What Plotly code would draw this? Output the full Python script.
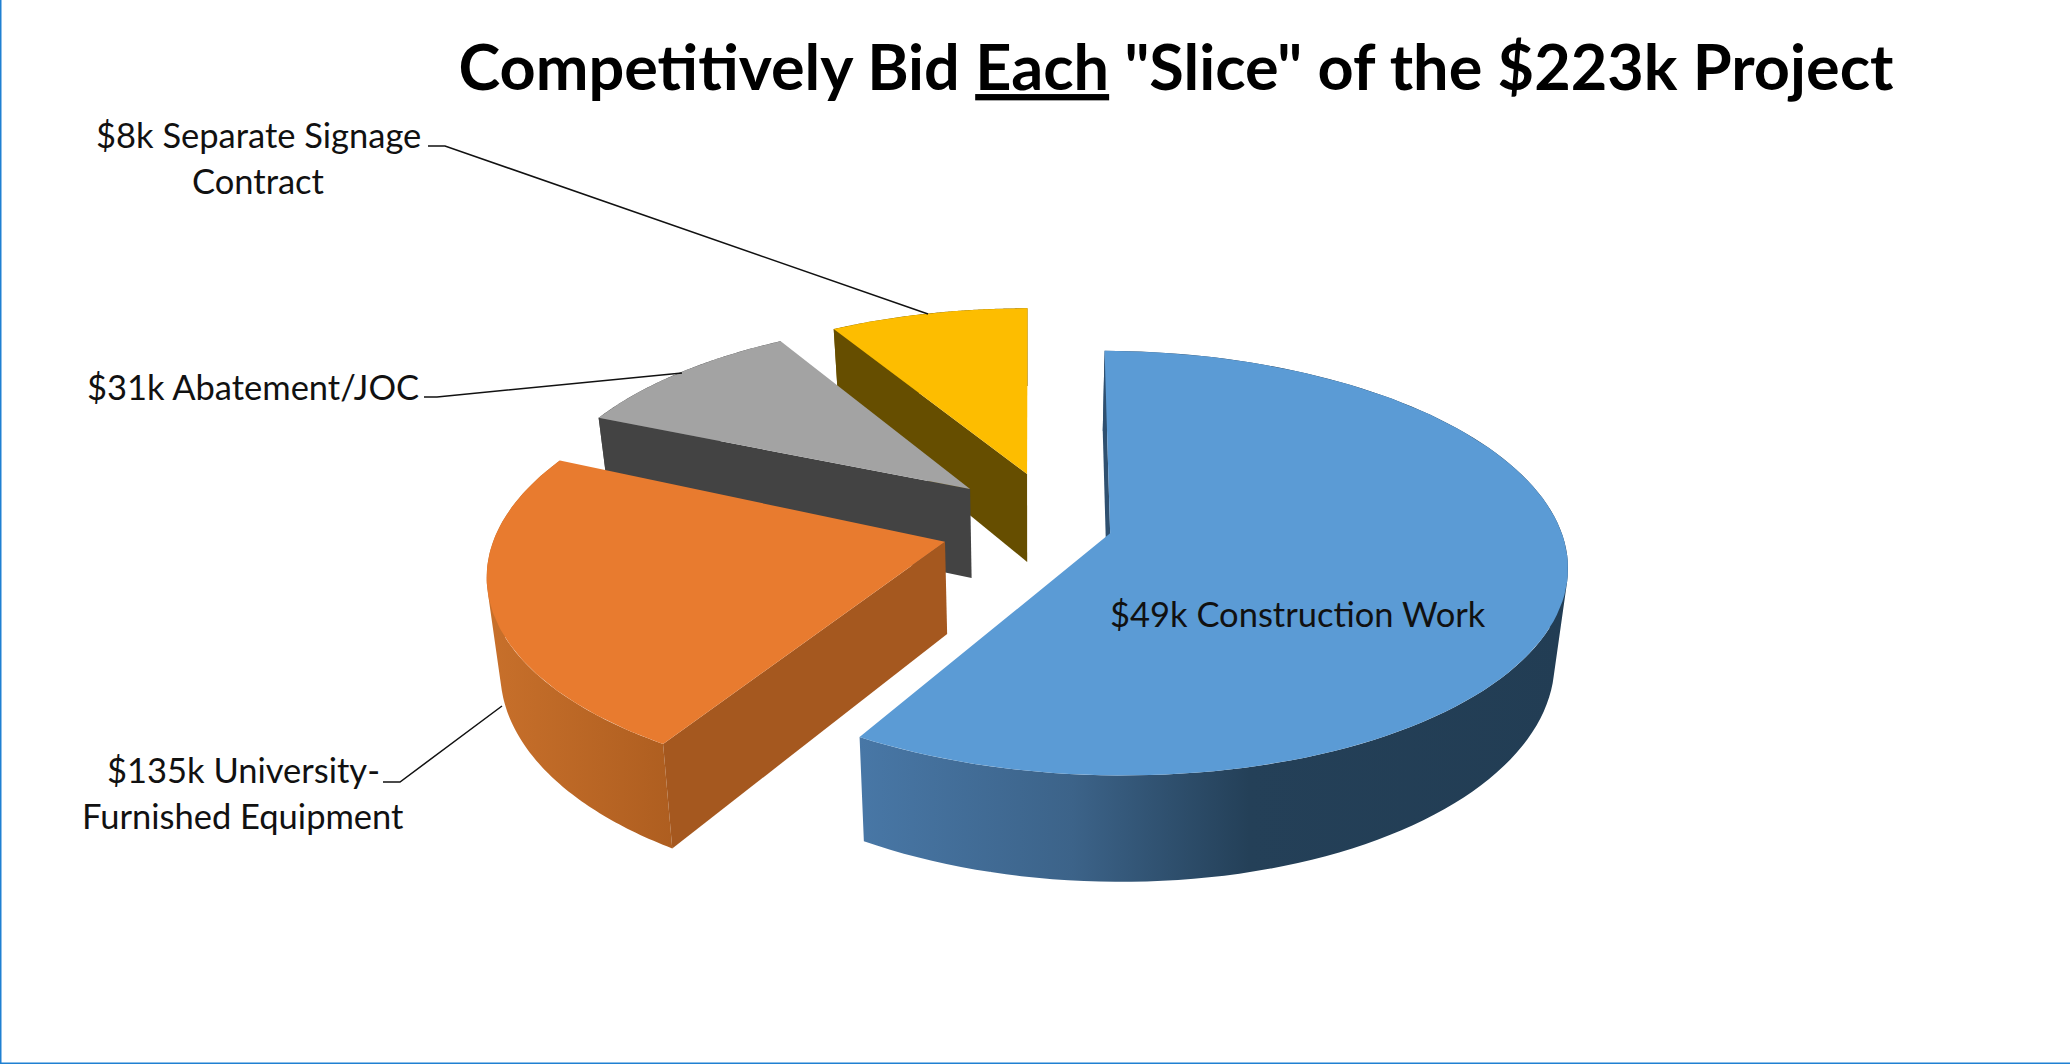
import numpy as np
import plotly.graph_objects as go

# slice shares (percent of the circle), clockwise from 12 o'clock
slice_names = ["Blue slice", "Orange slice", "Gray slice", "Yellow slice"]
slice_shares = [58.5, 22.9, 10.1, 8.5]

top_colors = ["#5b9bd5", "#e87b2f", "#a3a3a3", "#fdbd00"]
cut_colors = ["#2f5070", "#a5581f", "#434343", "#664e00"]
wall_scales = [
    [[0, "#4877a6"], [0.3, "#3c6389"], [0.55, "#244058"], [1, "#223d54"]],
    [[0, "#c8702b"], [1, "#ae5e20"]],
    [[0, "#535353"], [1, "#535353"]],
    [[0, "#7f6000"], [1, "#7f6000"]],
]

# how far each slice is pulled out of the pie, in pie radii, and its radius
pull_x = [0.174, -0.188, -0.138, -0.009]
pull_y = [-0.045, -0.085, 0.173, 0.25]
radius = [0.993, 0.988, 0.97, 0.97]
# small turns of the slice edges, degrees
start_turn = [0.6, 1.2, 0, 0]
end_turn = [0, 1.2, 0, 0]

# perspective of the pie on the page
cx, cy = 1031, 524
scale_x, scale_y = 452, 207
persp = 0.14
depth = 91
base_shrink = 0.975


def project(x, y, base=False):
    w = 1 + persp * y
    sx = scale_x * x / w
    sy = cy - scale_y * y / w
    if base:
        sx = sx * base_shrink
        sy = sy + depth / w
    return cx + sx, sy


edges = np.concatenate([[0], np.cumsum(slice_shares)]) / np.sum(slice_shares) * 360

fig = go.Figure()


def add_poly(xs, ys, color=None, gradient=None, name=""):
    tr = go.Scatter(x=xs, y=ys, mode="lines", fill="toself", line=dict(width=0),
                    name=name, hoverinfo="name", showlegend=False)
    if gradient is not None:
        tr.fillgradient = gradient
    else:
        tr.fillcolor = color
    fig.add_trace(tr)


# back slices first so the front ones cover them
for i in [3, 2, 1, 0]:
    t = np.radians(np.linspace(edges[i] + start_turn[i], edges[i + 1] + end_turn[i], 120))
    gx = pull_x[i] + radius[i] * np.sin(t)
    gy = pull_y[i] + radius[i] * np.cos(t)

    # outer wall, as strips so the outline follows the side of the pie
    top_x, top_y = project(gx, gy)
    bot_x, bot_y = project(gx, gy, base=True)
    wall_x = []
    wall_y = []
    for k in range(len(t) - 1):
        qx = [top_x[k], top_x[k + 1], bot_x[k + 1], bot_x[k]]
        qy = [top_y[k], top_y[k + 1], bot_y[k + 1], bot_y[k]]
        # keep every strip wound the same way, or they cancel where they overlap
        area = sum(qx[j] * qy[(j + 1) % 4] - qx[(j + 1) % 4] * qy[j] for j in range(4))
        if area < 0:
            qx = qx[::-1]
            qy = qy[::-1]
        wall_x += qx + [qx[0], None]
        wall_y += qy + [qy[0], None]
    grad = dict(type="horizontal", colorscale=wall_scales[i],
                start=float(min(top_x.min(), bot_x.min())), stop=float(max(top_x.max(), bot_x.max())))
    add_poly(wall_x, wall_y, gradient=grad, name=slice_names[i])

    # cut face at the start edge of the slice
    vx, vy = project(pull_x[i], pull_y[i])
    vbx, vby = project(pull_x[i], pull_y[i], base=True)
    add_poly([vx, top_x[0], bot_x[0], vbx], [vy, top_y[0], bot_y[0], vby],
             color=cut_colors[i], name=slice_names[i])

    # top face
    add_poly(np.concatenate([[vx], top_x]), np.concatenate([[vy], top_y]),
             color=top_colors[i], name=slice_names[i])

# leader lines
leaders = [
    "M 428 146 L 445 146 L 928 314",
    "M 424 397 L 437 397 L 682 373",
    "M 383 782 L 400 782 L 502 706",
]
for p in leaders:
    fig.add_shape(type="path", path=p, line=dict(color="#111111", width=1.5), xref="x", yref="y")

# blue frame on the left and bottom edges
fig.add_shape(type="line", x0=0, x1=0, y0=0, y1=1, xref="paper", yref="paper",
              line=dict(color="#1f80d2", width=3))
fig.add_shape(type="line", x0=0, x1=1, y0=0, y1=0, xref="paper", yref="paper",
              line=dict(color="#1f80d2", width=3))

label_text = ["$8k Separate Signage", "Contract", "$31k Abatement/JOC", "$135k University-",
              "Furnished Equipment", "$49k Construction Work"]
label_x = [258, 258, 253, 243, 243, 1298]
label_y = [134, 180, 386, 769, 815, 613]
for s, x, y in zip(label_text, label_x, label_y):
    fig.add_annotation(text=s, x=x, y=y, xref="x", yref="y", showarrow=False,
                       xanchor="center", yanchor="middle",
                       font=dict(family="Lato", size=34.5, color="#111111"))

fig.update_layout(
    title=dict(text='<b>Competitively Bid <u>Each</u> "Slice" of the $223k Project</b>',
               x=1176 / 2070, y=1 - 68 / 1064, xanchor="center", yanchor="middle",
               xref="paper", yref="paper",
               font=dict(family="Lato", size=63, color="#000000")),
    width=2070,
    height=1064,
    margin=dict(l=0, r=0, t=0, b=0),
    paper_bgcolor="white",
    plot_bgcolor="white",
    showlegend=False,
    xaxis=dict(range=[0, 2070], visible=False, fixedrange=True),
    yaxis=dict(range=[1064, 0], visible=False, fixedrange=True),
)

fig.write_html("out.html", config=dict(displayModeBar=False),
               post_script="document.body.style.margin='0';document.body.style.overflow='hidden';")
